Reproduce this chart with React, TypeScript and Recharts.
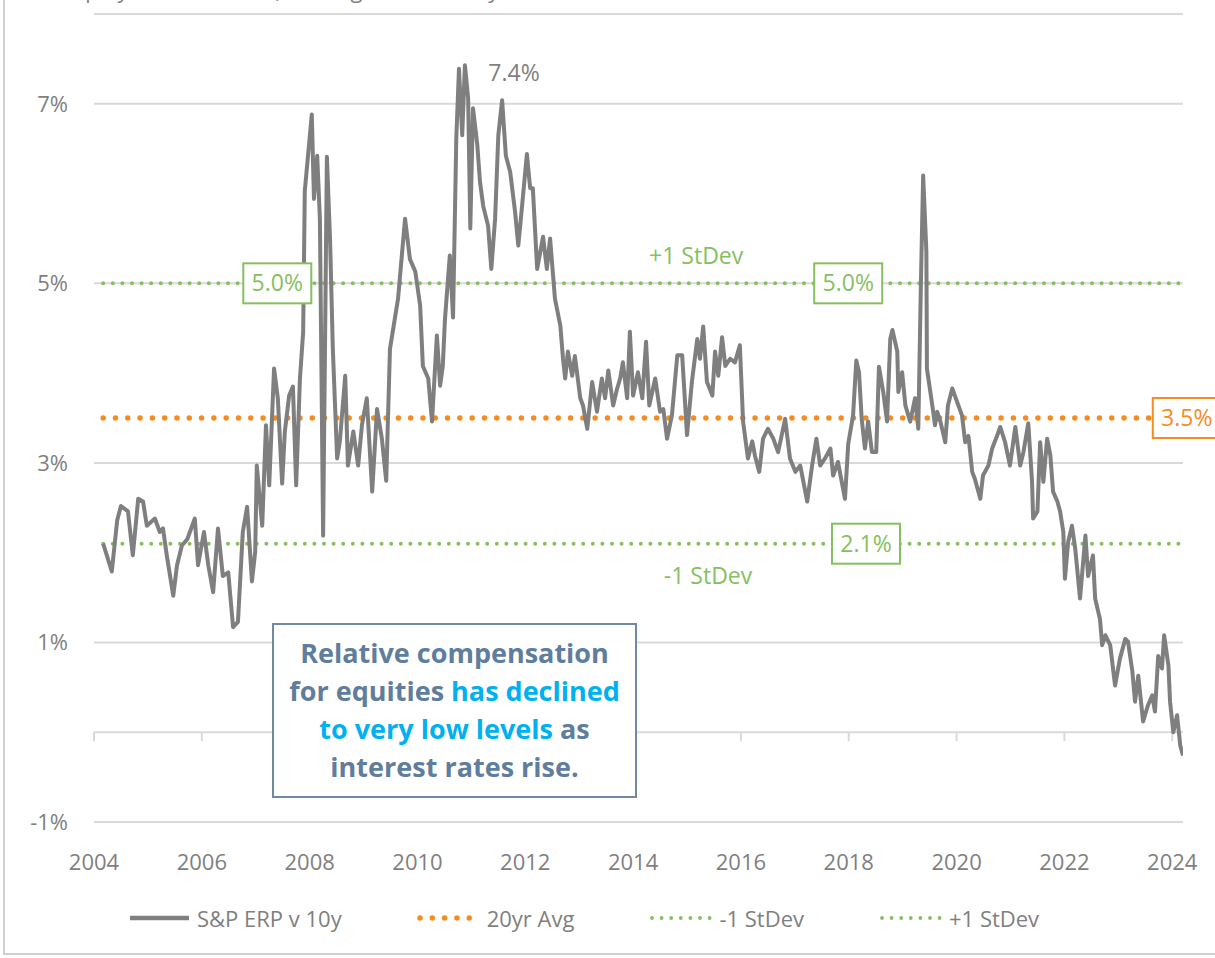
import React from "react";
import {
  LineChart,
  Line,
  XAxis,
  YAxis,
  CartesianGrid,
  ReferenceLine,
  ReferenceDot,
} from "recharts";

const FONT = "'Open Sans', 'Noto Sans', sans-serif";
const GRAY = "#7f7f7f";
const GRID = "#d9d9d9";
const ORANGE = "#f68b1f";
const GREEN = "#86bf5f";
const SLATE = "#5f7d9c";
const CYAN = "#00b0f0";

const X_TICKS = [2004, 2006, 2008, 2010, 2012, 2014, 2016, 2018, 2020, 2022, 2024];
const Y_TICKS = [-1, 1, 3, 5, 7];

// S&P equity risk premium vs 10y yield (year, %)
const ERP_SERIES: [number, number][] = [
  [2004.17, 2.1], [2004.33, 1.79], [2004.43, 2.36], [2004.5, 2.52], [2004.63, 2.46], [2004.72, 1.97], [2004.82, 2.6], [2004.91, 2.57], [2004.98, 2.3],
  [2005.13, 2.38], [2005.22, 2.23], [2005.28, 2.27], [2005.35, 1.97], [2005.47, 1.52], [2005.54, 1.86], [2005.63, 2.08], [2005.73, 2.15], [2005.87, 2.38], [2005.93, 1.86],
  [2006.04, 2.23], [2006.12, 1.86], [2006.21, 1.56], [2006.3, 2.27], [2006.39, 1.74], [2006.49, 1.78], [2006.58, 1.17], [2006.67, 1.23], [2006.76, 2.23], [2006.84, 2.51], [2006.93, 1.68], [2006.99, 2.01],
  [2007.02, 2.97], [2007.12, 2.3], [2007.19, 3.42], [2007.25, 2.75], [2007.34, 4.05], [2007.41, 3.72], [2007.49, 2.77], [2007.54, 3.35], [2007.62, 3.75], [2007.69, 3.85], [2007.75, 2.75], [2007.82, 3.94], [2007.88, 4.46], [2007.91, 6.03],
  [2008.04, 6.88], [2008.08, 5.94], [2008.14, 6.42], [2008.19, 5.72], [2008.25, 2.19], [2008.32, 6.41], [2008.38, 5.46], [2008.43, 4.27], [2008.51, 3.05], [2008.56, 3.24], [2008.66, 3.97], [2008.71, 2.97], [2008.81, 3.35], [2008.9, 2.97], [2008.97, 3.42],
  [2009.06, 3.72], [2009.16, 2.68], [2009.25, 3.6], [2009.34, 3.27], [2009.42, 2.8], [2009.49, 4.27], [2009.64, 4.83], [2009.77, 5.72], [2009.86, 5.27], [2009.96, 5.13],
  [2010.05, 4.75], [2010.1, 4.08], [2010.2, 3.94], [2010.27, 3.46], [2010.36, 4.42], [2010.42, 3.86], [2010.47, 4.08], [2010.51, 4.6], [2010.6, 5.31], [2010.66, 4.62], [2010.72, 6.61], [2010.77, 7.39], [2010.83, 6.65], [2010.88, 7.43], [2010.94, 7.06], [2010.98, 5.61],
  [2011.03, 6.95], [2011.11, 6.54], [2011.16, 6.13], [2011.22, 5.86], [2011.31, 5.64], [2011.37, 5.16], [2011.44, 5.72], [2011.5, 6.65], [2011.57, 7.04], [2011.64, 6.42], [2011.72, 6.24], [2011.81, 5.8], [2011.87, 5.42], [2011.94, 5.86],
  [2012.03, 6.44], [2012.09, 6.06], [2012.14, 6.06], [2012.22, 5.16], [2012.33, 5.52], [2012.4, 5.16], [2012.46, 5.5], [2012.55, 4.83], [2012.65, 4.53], [2012.7, 4.16], [2012.74, 3.94], [2012.79, 4.24], [2012.87, 3.97], [2012.92, 4.19],
  [2013.02, 3.72], [2013.07, 3.64], [2013.15, 3.38], [2013.24, 3.9], [2013.33, 3.57], [2013.42, 3.94], [2013.48, 3.72], [2013.54, 4.03], [2013.63, 3.64], [2013.7, 3.82], [2013.76, 3.94], [2013.81, 4.12], [2013.89, 3.72], [2013.94, 4.46],
  [2014.0, 3.75], [2014.09, 4.01], [2014.17, 3.72], [2014.24, 4.35], [2014.3, 3.64], [2014.41, 3.94], [2014.5, 3.57], [2014.56, 3.6], [2014.63, 3.27], [2014.72, 3.53], [2014.82, 4.2], [2014.91, 4.2],
  [2015.0, 3.31], [2015.09, 3.9], [2015.19, 4.38], [2015.24, 4.16], [2015.3, 4.52], [2015.37, 3.9], [2015.47, 3.75], [2015.52, 4.24], [2015.58, 3.97], [2015.65, 4.4], [2015.71, 4.08], [2015.8, 4.16], [2015.89, 4.12], [2015.98, 4.31],
  [2016.04, 3.46], [2016.13, 3.05], [2016.21, 3.24], [2016.26, 3.08], [2016.34, 2.9], [2016.41, 3.27], [2016.5, 3.38], [2016.6, 3.27], [2016.69, 3.12], [2016.82, 3.49], [2016.91, 3.05],
  [2017.01, 2.9], [2017.1, 2.97], [2017.23, 2.57], [2017.32, 2.97], [2017.4, 3.27], [2017.47, 2.97], [2017.56, 3.05], [2017.66, 3.16], [2017.71, 2.86], [2017.8, 3.01], [2017.93, 2.6], [2017.99, 3.21],
  [2018.08, 3.53], [2018.14, 4.14], [2018.19, 4.01], [2018.24, 3.49], [2018.3, 3.16], [2018.36, 3.46], [2018.43, 3.12], [2018.51, 3.12], [2018.56, 4.07], [2018.64, 3.79], [2018.71, 3.46], [2018.77, 4.38], [2018.81, 4.48], [2018.9, 4.24], [2018.92, 3.79], [2018.99, 4.01],
  [2019.05, 3.64], [2019.14, 3.46], [2019.23, 3.72], [2019.29, 3.38], [2019.34, 5.05], [2019.38, 6.2], [2019.44, 5.35], [2019.45, 4.05], [2019.55, 3.64], [2019.6, 3.42], [2019.64, 3.57], [2019.7, 3.46], [2019.79, 3.23], [2019.84, 3.64], [2019.92, 3.83],
  [2020.01, 3.68], [2020.1, 3.53], [2020.16, 3.23], [2020.22, 3.3], [2020.29, 2.9], [2020.34, 2.82], [2020.44, 2.6], [2020.49, 2.86], [2020.59, 2.97], [2020.66, 3.16], [2020.75, 3.3], [2020.81, 3.4], [2020.9, 3.23], [2020.99, 2.97],
  [2021.09, 3.4], [2021.18, 2.97], [2021.24, 3.12], [2021.33, 3.44], [2021.4, 2.79], [2021.42, 2.38], [2021.5, 2.46], [2021.55, 3.23], [2021.61, 2.79], [2021.68, 3.27], [2021.74, 3.08], [2021.79, 2.68], [2021.87, 2.57], [2021.92, 2.46], [2021.98, 2.23],
  [2022.01, 1.71], [2022.07, 2.12], [2022.14, 2.3], [2022.2, 2.05], [2022.29, 1.49], [2022.39, 2.19], [2022.44, 1.74], [2022.53, 1.97], [2022.57, 1.49], [2022.66, 1.26], [2022.7, 0.97], [2022.76, 1.08], [2022.85, 0.97], [2022.94, 0.52],
  [2023.03, 0.82], [2023.13, 1.04], [2023.18, 1.01], [2023.26, 0.68], [2023.31, 0.34], [2023.37, 0.63], [2023.46, 0.12], [2023.55, 0.3], [2023.63, 0.41], [2023.68, 0.23], [2023.74, 0.85], [2023.81, 0.71], [2023.85, 1.08], [2023.93, 0.74], [2023.96, 0.34],
  [2024.02, 0.0], [2024.09, 0.19], [2024.15, -0.15], [2024.2, -0.26],
];

const AVG_20Y = 3.5;
const MINUS_1SD = 2.1;
const PLUS_1SD = 5.0;
const PEAK = 7.4;

const erpData = ERP_SERIES.map(([x, v]) => ({ x, v }));
const start = ERP_SERIES[0][0];
const end = ERP_SERIES[ERP_SERIES.length - 1][0];
const flat = (v: number) => [{ x: start, v }, { x: end, v }];

const LEGEND = [
  { name: "S&P ERP v 10y", color: GRAY, width: 4.5, dash: undefined },
  { name: "20yr Avg", color: ORANGE, width: 5.5, dash: "0 12.3" },
  { name: "-1 StDev", color: GREEN, width: 3.8, dash: "0 9.6" },
  { name: "+1 StDev", color: GREEN, width: 3.8, dash: "0 9.6" },
];

function BoxLabel(props: any) {
  const { cx, cy, text, color } = props;
  const w = 68;
  const h = 40;
  return (
    <g>
      <rect x={cx - w / 2} y={cy - h / 2} width={w} height={h} fill="#fff" stroke={color} strokeWidth={2} />
      <text x={cx} y={cy + 8} textAnchor="middle" fill={color} fontSize={23} fontFamily={FONT}>
        {text}
      </text>
    </g>
  );
}

function TextMark(props: any) {
  const { cx, cy, text, color } = props;
  return (
    <text x={cx} y={cy + 8} textAnchor="middle" fill={color} fontSize={23} fontFamily={FONT}>
      {text}
    </text>
  );
}

export default function App() {
  return (
    <div
      style={{
        position: "fixed",
        left: 0,
        top: 0,
        width: 1215,
        height: 958,
        background: "#fff",
        overflow: "hidden",
        fontFamily: FONT,
      }}
    >
      {/* frame of the original slide */}
      <div
        style={{
          position: "absolute",
          left: 3,
          top: -5,
          width: 1230,
          height: 960,
          borderLeft: "2px solid #cfcfcf",
          borderBottom: "2px solid #cfcfcf",
          boxSizing: "border-box",
        }}
      />
      <svg width={1215} height={20} style={{ position: "absolute", left: 0, top: 0 }}>
        <text x={65} y={-2} fill={GRAY} fontSize={22} fontFamily={FONT}>
          Equity Risk Premium, Trailing 20 Yr History
        </text>
      </svg>

      <div style={{ position: "absolute", left: 0, top: 0 }}>
        <LineChart width={1215} height={958} margin={{ top: 14, right: 32, bottom: 76, left: 0 }}>
          <CartesianGrid vertical={false} stroke={GRID} strokeWidth={2} />
          <XAxis
            type="number"
            dataKey="x"
            domain={[2004, 2024.2]}
            ticks={X_TICKS}
            allowDataOverflow
            axisLine={false}
            tickLine={false}
            height={60}
            tickMargin={26}
            tick={{ fontSize: 22, fill: GRAY, fontFamily: FONT }}
          />
          <YAxis
            type="number"
            domain={[-1, 8]}
            ticks={Y_TICKS}
            width={94}
            axisLine={false}
            tickLine={false}
            tickMargin={20}
            tickFormatter={(v) => `${v}%`}
            tick={{ fontSize: 22, fill: GRAY, fontFamily: FONT }}
          />
          <ReferenceLine y={0} stroke={GRID} strokeWidth={2} />
          {X_TICKS.map((t) => (
            <ReferenceLine
              key={t}
              segment={[
                { x: t, y: 0 },
                { x: t, y: -0.1 },
              ]}
              stroke={GRID}
              strokeWidth={2}
            />
          ))}
          <Line
            data={flat(PLUS_1SD)}
            dataKey="v"
            stroke={GREEN}
            strokeWidth={4}
            strokeDasharray="0 9.6"
            strokeLinecap="round"
            dot={false}
            isAnimationActive={false}
          />
          <Line
            data={flat(MINUS_1SD)}
            dataKey="v"
            stroke={GREEN}
            strokeWidth={4}
            strokeDasharray="0 9.6"
            strokeLinecap="round"
            dot={false}
            isAnimationActive={false}
          />
          <Line
            data={flat(AVG_20Y)}
            dataKey="v"
            stroke={ORANGE}
            strokeWidth={5.5}
            strokeDasharray="0 12.3"
            strokeLinecap="round"
            dot={false}
            isAnimationActive={false}
          />
          <Line
            data={erpData}
            dataKey="v"
            type="linear"
            stroke={GRAY}
            strokeWidth={4}
            strokeLinejoin="round"
            dot={false}
            isAnimationActive={false}
          />
          <ReferenceDot x={2007.4} y={PLUS_1SD} ifOverflow="visible" shape={(p: any) => <BoxLabel {...p} text="5.0%" color={GREEN} />} />
          <ReferenceDot x={2017.99} y={PLUS_1SD} ifOverflow="visible" shape={(p: any) => <BoxLabel {...p} text="5.0%" color={GREEN} />} />
          <ReferenceDot x={2018.32} y={MINUS_1SD} ifOverflow="visible" shape={(p: any) => <BoxLabel {...p} text="2.1%" color={GREEN} />} />
          <ReferenceDot x={2024.27} y={AVG_20Y} ifOverflow="visible" shape={(p: any) => <BoxLabel {...p} text="3.5%" color={ORANGE} />} />
          <ReferenceDot x={2015.17} y={5.31} ifOverflow="visible" shape={(p: any) => <TextMark {...p} text="+1 StDev" color={GREEN} />} />
          <ReferenceDot x={2015.39} y={1.74} ifOverflow="visible" shape={(p: any) => <TextMark {...p} text="-1 StDev" color={GREEN} />} />
          <ReferenceDot x={2011.79} y={7.34} ifOverflow="visible" shape={(p: any) => <TextMark {...p} text={`${PEAK}%`} color={GRAY} />} />
        </LineChart>
      </div>

      <div
        style={{
          position: "absolute",
          left: 272,
          top: 623,
          width: 365,
          height: 175,
          boxSizing: "border-box",
          border: "2px solid #6f89a6",
          background: "#fff",
          textAlign: "center",
          fontWeight: 700,
          fontSize: 27,
          lineHeight: "38px",
          color: SLATE,
          paddingTop: 9,
        }}
      >
        Relative compensation
        <br />
        for equities <span style={{ color: CYAN }}>has declined</span>
        <br />
        <span style={{ color: CYAN }}>to very low levels</span> as
        <br />
        interest rates rise.
      </div>

      <div
        style={{
          position: "absolute",
          left: 127,
          top: 903,
          display: "flex",
          alignItems: "center",
          gap: 75,
          fontSize: 22,
          color: GRAY,
        }}
      >
        {LEGEND.map((l) => (
          <div key={l.name} style={{ display: "flex", alignItems: "center" }}>
            <svg width={64} height={30}>
              <line
                x1={3}
                x2={62}
                y1={15}
                y2={15}
                stroke={l.color}
                strokeWidth={l.width}
                strokeDasharray={l.dash}
                strokeLinecap={l.dash ? "round" : "butt"}
              />
            </svg>
            <span style={{ marginLeft: 6 }}>{l.name}</span>
          </div>
        ))}
      </div>
    </div>
  );
}
